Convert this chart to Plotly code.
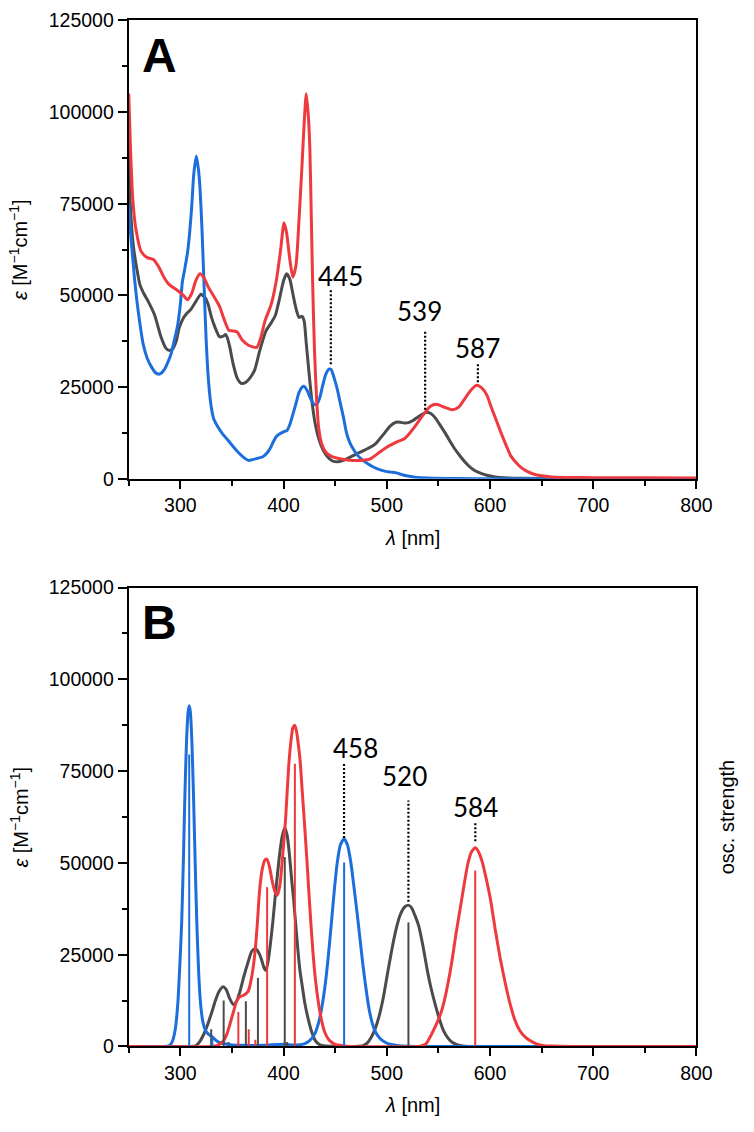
import plotly.graph_objects as go

# ---------------- Panel A: experimental spectra (lambda nm, epsilon) ----------------
redA_x = [250, 252, 254, 257, 262, 268, 274, 279, 284, 289, 297, 303, 307, 311, 315, 319, 323, 327, 333, 338,
          342, 347, 351, 355, 360, 366, 374, 378, 382, 388, 393, 397, 400.5, 403, 406, 409, 412, 415, 418, 420,
          422, 424, 425.5, 427, 428.5, 430, 432, 434, 437, 441, 447, 456, 467, 476, 484, 493, 500, 506, 512, 517,
          521, 525, 530, 535, 542, 548, 556, 564, 570, 576, 581, 587, 592, 597, 601, 606, 611, 616, 620, 625,
          630, 636, 642, 650, 660, 680, 700, 750, 800]
redA_y = [105000, 88000, 76000, 68000, 62000, 60300, 59800, 57800, 55000, 53000, 51400, 50000, 48800, 50500,
          54000, 55900, 54800, 52300, 49500, 47000, 43800, 40500, 40300, 40000, 37800, 36400, 35800, 38500, 43000,
          47500, 54000, 62000, 69800, 67000, 60000, 55000, 58000, 70600, 86000, 97000, 105000, 99000, 90000,
          70000, 50000, 35000, 22000, 14000, 9500, 7200, 6000, 5400, 5000, 5000, 5400, 7200, 8600, 9500, 10300,
          10900, 12000, 13400, 15300, 17300, 19700, 20300, 19500, 18800, 19600, 22000, 24000, 25500, 24800,
          22800, 19700, 16000, 12300, 8900, 6300, 4500, 3100, 2000, 1300, 800, 500, 350, 300, 250, 200]

grayA_x = [250, 251.5, 254.5, 258, 261, 265, 269, 275, 281.5, 286, 289, 292.5, 296, 299, 303, 306, 310, 315,
           320, 324.5, 327, 330, 334, 338, 341, 344, 346, 348, 351, 355, 359, 363, 367, 372, 377, 383, 388, 392,
           396, 400, 403, 406, 409, 412, 415, 418, 420, 422, 425, 428, 431, 434, 438, 442, 447, 452, 458, 464,
           471, 477, 483.5, 489, 493, 498, 503, 509, 513, 517, 521, 525, 531, 535, 539, 543, 547, 552, 557, 562,
           566, 571, 576, 581, 586, 592, 598, 605, 614, 630, 660, 700, 800]
grayA_y = [92000, 75000, 63500, 57000, 52800, 50300, 48300, 44700, 38500, 35600, 35000, 35400, 37500, 41200,
           43800, 45000, 46100, 48300, 50300, 49200, 47500, 44200, 41000, 38700, 38800, 39300, 38000, 35800,
           31500, 27500, 26000, 26200, 27300, 29600, 35000, 40300, 42500, 44500, 49000, 54000, 55900, 54500,
           50500, 46500, 44000, 44300, 43000, 37000, 28000, 20000, 14500, 11000, 8000, 6200, 4900, 4600, 5000,
           5800, 6800, 7600, 8500, 9500, 10800, 12500, 14300, 15400, 15400, 15200, 15300, 15800, 17000, 17700,
           18100, 17700, 16600, 14500, 12300, 9900, 8100, 6200, 4500, 3100, 2100, 1400, 900, 500, 250, 100, 50,
           30, 0]

blueA_x = [250, 251.5, 253, 255.5, 258, 261, 264, 268, 272, 276, 279, 282, 285, 288, 291, 294, 297.5, 300, 302,
           304.5, 307, 309, 311, 313, 315.5, 317.5, 319, 321, 323, 325, 327.5, 330, 332.5, 336, 340, 344, 348, 352,
           356, 361, 366, 370, 375, 380, 384, 387.5, 390, 393, 396, 400, 403.5, 406, 409, 412, 415, 418, 420, 423,
           426, 429, 432, 435, 438, 441, 444, 446, 449, 452, 455, 458, 461, 464, 467.5, 472, 477, 482, 487, 493,
           499, 504, 509, 514, 519, 526, 534, 545, 570, 600, 800]
blueA_y = [75000, 68000, 63000, 55000, 48300, 42000, 36700, 32800, 30500, 28900, 28500, 28900, 30000, 31800,
           34000, 37500, 42000, 47500, 53700, 57500, 61700, 67000, 74000, 83000, 88000, 84500, 79600, 68000,
           52800, 38000, 26000, 19500, 16200, 14300, 12600, 11200, 9900, 8500, 7200, 5900, 5000, 5200, 5600,
           6000, 7000, 8500, 10000, 11500, 12200, 12800, 13200, 14700, 17500, 20500, 23500, 25000, 25200, 24000,
           22000, 20500, 20200, 22000, 25500, 28500, 29900, 29800, 27500, 24500, 20600, 16800, 12500, 10000,
           8100, 6300, 5000, 4000, 3200, 2500, 2000, 1800, 1600, 1200, 800, 500, 300, 150, 50, 0, 0]

# ---------------- Panel B: calculated spectra ----------------
blueB_x = [250, 285, 289, 292, 295, 297.5, 299.5, 301.3, 303, 304.5, 306, 307.5, 308.6, 309.8, 311.2, 312.7,
           314.3, 316, 317.8, 319.7, 322, 324.5, 327.5, 331, 334, 337, 342, 348, 360, 380, 400, 410, 420, 425,
           430, 434, 437, 440, 443, 446, 449, 452, 455, 458.7, 462, 465, 468, 471, 474, 477, 480, 483, 486, 489,
           493, 498, 503, 510, 520, 540, 800]
blueB_y = [0, 0, 200, 1200, 4500, 11400, 22000, 33600, 51000, 69200, 83000, 91000, 92800, 91000, 83000, 69200,
           51000, 33600, 20000, 11400, 6500, 4300, 3300, 2600, 1800, 1200, 800, 500, 300, 300, 600, 400, 700,
           1500, 3300, 6500, 10500, 16000, 23500, 32500, 42000, 50000, 54800, 56600, 54800, 50500, 44000, 37000,
           29500, 22000, 15500, 10000, 6300, 4000, 2300, 1200, 600, 250, 50, 0, 0]

grayB_x = [250, 310, 315, 319, 322.8, 326.5, 330.8, 334, 337.5, 341.3, 344.5, 347.6, 351.4, 354.5, 357.8, 361.5,
           365.7, 369, 372.7, 375.5, 378.4, 381, 383, 385.5, 387.5, 389.5, 392, 394, 395.8, 398.5, 401.2, 403.5,
           405.4, 408, 409.8, 411.7, 414, 416, 418, 420.5, 424.4, 427.5, 430.8, 434, 437, 442, 450, 470, 477, 481,
           485, 489, 493, 497, 501, 505, 509, 513, 517, 521, 524, 527, 531, 535, 539, 543, 547, 551, 555, 559,
           563, 568, 572.4, 580, 800]
grayB_y = [0, 0, 200, 1400, 3400, 6000, 9600, 12500, 15000, 16300, 15500, 13200, 11400, 12300, 15000, 19000,
           23000, 25800, 26700, 25800, 23900, 21500, 20700, 24000, 28500, 33600, 41000, 46500, 51400, 57000,
           59600, 57500, 53200, 45000, 40000, 33600, 26000, 20500, 16700, 12000, 6900, 3800, 1600, 700, 300, 100,
           0, 0, 200, 900, 2500, 5000, 8700, 13800, 20300, 26500, 31900, 35800, 37900, 38500, 37800, 35900,
           32800, 27500, 21200, 15800, 11400, 7500, 4300, 2400, 1200, 500, 200, 0, 0]

redB_x = [250, 330, 335.6, 339, 342, 345, 348, 351, 354.6, 358, 361, 365.7, 368.5, 372, 374.5, 376.8, 379.5, 382,
          384, 386.5, 388.9, 391.5, 394, 396.5, 399, 402, 405, 407.5, 409, 410.8, 412.5, 414, 416, 418, 420,
          422.5, 425, 427, 428.8, 431, 434, 437, 440, 444.6, 450, 455.8, 465, 530, 534, 538, 543.5, 548, 553,
          557, 562.5, 567, 572, 575.5, 578.5, 582, 585.7, 589, 592.7, 596.5, 600.6, 605, 610, 615, 619.7, 624,
          629, 634, 638.7, 645, 651, 660, 680, 800]
redB_y = [0, 0, 200, 800, 1600, 3300, 6000, 9000, 12300, 13600, 13900, 15000, 18000, 24700, 33000, 42500,
          48500, 50800, 51000, 48800, 45200, 42300, 41200, 44000, 51400, 62000, 76400, 84000, 86800, 87500,
          86000, 83000, 78100, 70000, 62000, 51400, 40000, 31500, 24700, 18000, 11500, 6900, 3800, 1600, 600,
          300, 0, 0, 200, 700, 3400, 6000, 9600, 14000, 22100, 30500, 39000, 45000, 49700, 53000, 54100, 53000,
          50100, 45500, 39900, 32000, 23900, 17000, 11400, 7300, 4300, 2600, 1600, 700, 300, 100, 0, 0]

# oscillator-strength sticks (drawn in epsilon-equivalent height)
blue_stick_x = [308.6, 331, 346, 458.7]
blue_stick_h = [79500, 2500, 900, 50100]
gray_stick_x = [329.9, 342, 346.7, 363.5, 375.2, 401.2, 403.5, 521]
gray_stick_h = [4700, 12500, 1200, 12300, 18700, 51600, 1200, 33800]
red_stick_x = [356.2, 366.3, 372.7, 384.1, 411, 585.7]
red_stick_h = [9400, 4700, 1800, 43400, 77000, 47900]

# peak labels
labA_text = ["445", "539", "587"]
labA_tx = [455.5, 531.5, 587.8]
labA_ty = [55400, 45700, 35700]
labA_lx = [445.8, 537.2, 588.3]
labA_top = [51700, 40600, 31700]
labA_bot = [31200, 18800, 26300]

labB_text = ["458", "520", "584"]
labB_tx = [470, 517, 586]
labB_ty = [81300, 73700, 65200]
labB_lx = [458.6, 521, 585.8]
labB_top = [77300, 67000, 61200]
labB_bot = [56800, 39400, 55900]

x_ticks = [300, 400, 500, 600, 700, 800]
y_ticks = [0, 25000, 50000, 75000, 100000, 125000]

RED = "#EE3A3F"
BLUE = "#1C6FDB"
GRAY = "#4B4B4B"

W, H = 754, 1132
XL, XR = 131.5, 711.5
A_T, A_B = 9.5, 477
B_T, B_B = 588, 1056

fig = go.Figure()

def curve(x, y, color, xa, ya):
    fig.add_trace(go.Scatter(x=x, y=y, mode="lines", xaxis=xa, yaxis=ya,
                             line=dict(color=color, width=3, shape="spline", smoothing=0.6),
                             showlegend=False, hoverinfo="skip"))

def sticks(xs, hs, color):
    sx, sy = [], []
    for xv, hv in zip(xs, hs):
        sx += [xv, xv, None]
        sy += [0, hv, None]
    fig.add_trace(go.Scatter(x=sx, y=sy, mode="lines", xaxis="x2", yaxis="y2",
                             line=dict(color=color, width=2), showlegend=False, hoverinfo="skip"))

curve(grayA_x, grayA_y, GRAY, "x", "y")
curve(blueA_x, blueA_y, BLUE, "x", "y")
curve(redA_x, redA_y, RED, "x", "y")

curve(grayB_x, grayB_y, GRAY, "x2", "y2")
curve(blueB_x, blueB_y, BLUE, "x2", "y2")
curve(redB_x, redB_y, RED, "x2", "y2")
sticks(gray_stick_x, gray_stick_h, GRAY)
sticks(blue_stick_x, blue_stick_h, BLUE)
sticks(red_stick_x, red_stick_h, RED)

TICKFONT = dict(family="Liberation Sans, Arial, sans-serif", size=19.5, color="black")
LABFONT = dict(family="Lato, Open Sans, sans-serif", size=26, color="black")

def xax(dom_anchor):
    return dict(domain=[XL / W, XR / W], range=[250, 800], anchor=dom_anchor,
                tickvals=x_ticks, ticks="outside", ticklen=8, tickwidth=2, tickcolor="black",
                minor=dict(dtick=50, tick0=250, ticks="outside", ticklen=5, tickwidth=2, tickcolor="black"),
                showline=True, linewidth=2, linecolor="black", mirror=True,
                showgrid=False, zeroline=False, tickfont=TICKFONT)

def yax(top, bot, anchor):
    return dict(domain=[1 - bot / H, 1 - top / H], range=[0, 125000], anchor=anchor,
                tickvals=y_ticks, ticktext=[str(v) for v in y_ticks],
                ticks="outside", ticklen=9, tickwidth=2, tickcolor="black",
                minor=dict(dtick=12500, tick0=0, ticks="outside", ticklen=5, tickwidth=2, tickcolor="black"),
                showline=True, linewidth=2, linecolor="black", mirror=True,
                showgrid=False, zeroline=False, tickfont=TICKFONT)

shapes = []
annotations = []

def peak_labels(texts, tx, ty, lx, top, bot, xr, yr):
    for t, a, b, c, d, e in zip(texts, tx, ty, lx, top, bot):
        shapes.append(dict(type="line", xref=xr, yref=yr, x0=c, x1=c, y0=e, y1=d,
                           line=dict(color="black", width=2.2, dash="2px,2px")))
        annotations.append(dict(text=t, x=a, y=b, xref=xr, yref=yr, showarrow=False,
                                xanchor="center", yanchor="middle", font=LABFONT))

peak_labels(labA_text, labA_tx, labA_ty, labA_lx, labA_top, labA_bot, "x", "y")
peak_labels(labB_text, labB_tx, labB_ty, labB_lx, labB_top, labB_bot, "x2", "y2")

AXFONT = dict(family="Liberation Sans, Arial, sans-serif", size=20, color="black")
for (top, bot, letter) in [(A_T, A_B, "A"), (B_T, B_B, "B")]:
    mid = (top + bot) / 2
    annotations.append(dict(text="<i>λ</i> [nm]", x=(XL + XR) / 2 / W, y=1 - (bot + 60) / H,
                            xref="paper", yref="paper", showarrow=False, xanchor="center",
                            yanchor="middle", font=AXFONT))
    annotations.append(dict(text="<i>ε</i> [M<sup>−1</sup>cm<sup>−1</sup>]", x=19 / W, y=1 - mid / H,
                            xref="paper", yref="paper", showarrow=False, xanchor="center",
                            yanchor="middle", textangle=-90, font=AXFONT))
    annotations.append(dict(text="<b>" + letter + "</b>", x=143 / W, y=1 - (top + 36) / H,
                            xref="paper", yref="paper", showarrow=False, xanchor="left",
                            yanchor="middle",
                            font=dict(family="Liberation Sans, Arial, sans-serif", size=48, color="black")))

annotations.append(dict(text="osc. strength", x=743 / W, y=1 - (B_T + B_B) / 2 / H,
                        xref="paper", yref="paper", showarrow=False, xanchor="center",
                        yanchor="middle", textangle=-90, font=AXFONT))

fig.update_layout(
    width=W, height=H, margin=dict(l=0, r=0, t=0, b=0),
    paper_bgcolor="white", plot_bgcolor="white",
    xaxis=xax("y"), yaxis=yax(A_T, A_B, "x"),
    xaxis2=xax("y2"), yaxis2=yax(B_T, B_B, "x2"),
    shapes=shapes, annotations=annotations, showlegend=False,
)

fig.write_html("out.html", config={"displayModeBar": False},
               post_script="document.body.style.margin='0';"
                           "document.body.style.overflow='hidden';"
                           "document.documentElement.style.overflow='hidden';")
